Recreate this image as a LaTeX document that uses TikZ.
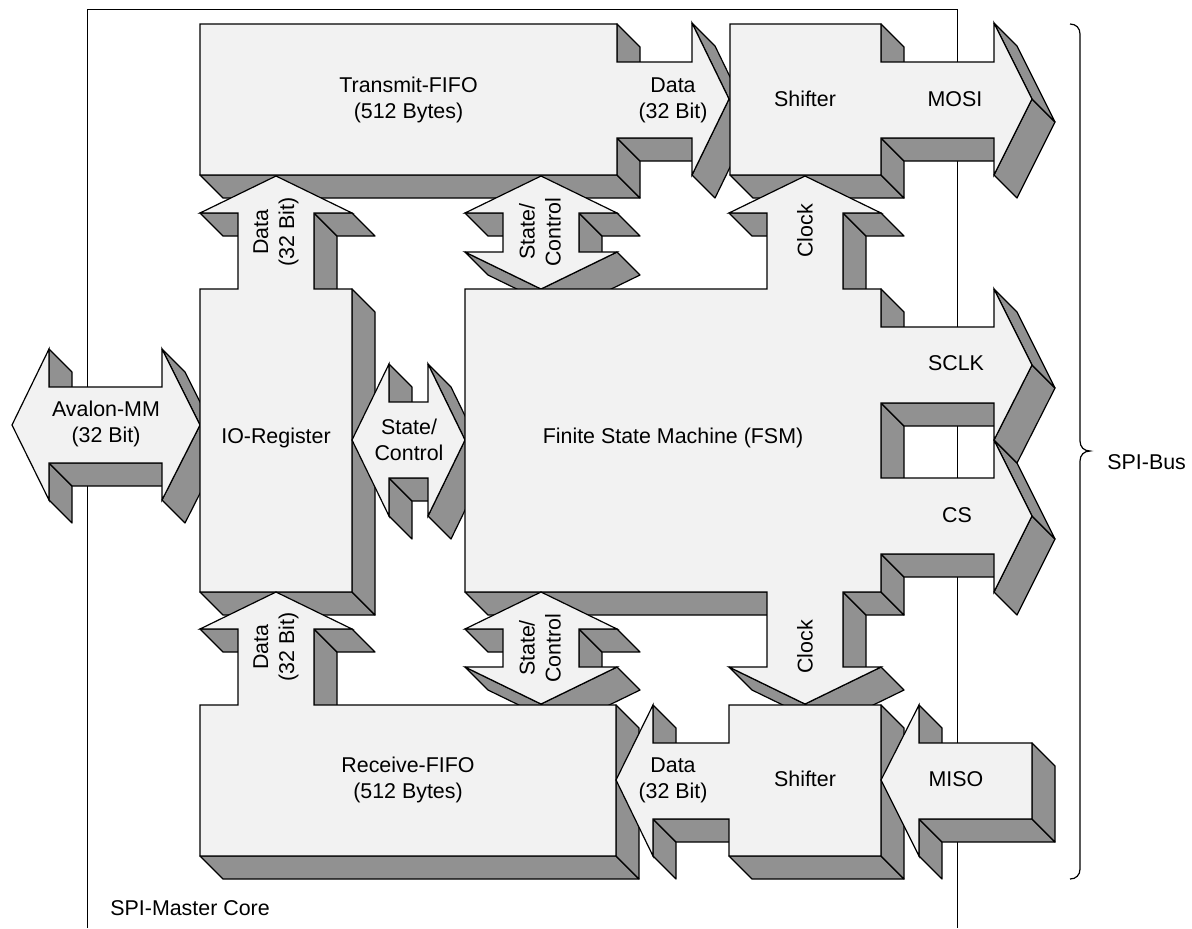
\documentclass[tikz,border=0pt]{standalone}
\usepackage{fontspec}
\setmainfont{Liberation Sans}
\definecolor{facegray}{RGB}{242,242,242}
\definecolor{sidegray}{RGB}{145,145,145}
\tikzset{
  face/.style={fill=facegray, draw=black, line width=0.6pt},
  side/.style={fill=sidegray, draw=black, line width=0.6pt, line join=round},
  lbl/.style={font=\fontsize{10.7pt}{13pt}\selectfont, align=center, inner sep=0pt},
  vlbl/.style={lbl, rotate=90},
  frameline/.style={draw=black, line width=0.5pt},
}
% depth of the oblique extrusion (towards lower right)
\newcommand\extrude{23}
\def\nopoint{none}
% \solidblock{x1/y1, x2/y2, ..., x1/y1}: outline listed counter-clockwise on screen;
% side faces are drawn for the edges that face the viewer, then the front face.
\newcommand\solidblock[1]{%
  \foreach \x/\y [remember=\x as \px (initially none), remember=\y as \py (initially none)] in {#1} {%
    \ifx\px\nopoint\else
      \pgfmathtruncatemacro\isfront{((\x)-(\px))>((\y)-(\py))}%
      \ifnum\isfront=1
        \draw[side] (\px,\py) -- (\x,\y) -- (\x+\extrude,\y+\extrude) -- (\px+\extrude,\py+\extrude) -- cycle;
      \fi
    \fi
  }%
  \gdef\facepath{}%
  \foreach \x/\y [count=\i] in {#1} {%
    \ifnum\i=1 \xdef\facepath{(\x,\y)}\else \xdef\facepath{\facepath -- (\x,\y)}\fi
  }%
  \edef\drawface{\noexpand\draw[face] \facepath -- cycle;}%
  \drawface
}
\begin{document}
\begin{tikzpicture}[x=0.5pt, y=-0.5pt]
\useasboundingbox (0,0) rectangle (1192,928);

% SPI-Master core frame (open at the bottom)
\coordinate (fbl) at (87,928);
\coordinate (ftl) at (87,9);
\coordinate (ftr) at (957,9);
\coordinate (fbr) at (957,928);
\draw[frameline] (fbl) -- (ftl) -- (ftr) -- (fbr);

% brace grouping the SPI bus lines
\draw[line width=0.6pt] (1070,24) .. controls (1076,24) and (1080,28) .. (1080,34)
  -- (1080,441) .. controls (1080,447) and (1084,451) .. (1090,451)
  .. controls (1084,451) and (1080,455) .. (1080,461)
  -- (1080,869) .. controls (1080,875) and (1076,879) .. (1070,879);

% Transmit-FIFO with data output arrow
\solidblock{692/23, 692/62, 617/62, 617/24, 200/24, 200/175, 617/175, 617/138, 692/138, 692/175, 729/99, 692/23}
% transmit shifter with MOSI output
\solidblock{994/23, 994/62, 881/62, 881/24, 730/24, 730/175, 881/175, 881/138, 994/138, 994/175, 1032/99, 994/23}
% Avalon-MM interface
\solidblock{12/425, 49/500, 49/463, 162/463, 162/500, 200/425, 162/349, 162/387, 49/387, 49/349, 12/425}
% IO register with data arrow to the transmit FIFO
\solidblock{276/176, 200/213, 238/213, 238/289, 200/289, 200/592, 352/592, 352/289, 314/289, 314/213, 352/213, 276/176}
% state/control between transmit FIFO and FSM
\solidblock{579/252, 579/213, 617/213, 541/176, 465/213, 503/213, 503/252, 465/252, 541/289, 617/252, 579/252}
% state/control between IO register and FSM
\solidblock{352/440, 389/516, 389/478, 428/478, 428/516, 465/440, 428/364, 428/402, 389/402, 389/364, 352/440}
% finite state machine with clock, SCLK and CS outputs
\solidblock{881/667, 843/667, 843/592, 881/592, 881/554, 994/554, 994/592, 1032/516, 994/440, 994/478, 881/478, 881/403, 994/403, 994/440, 1032/365, 994/289, 994/327, 881/327, 881/289, 843/289, 843/213, 881/213, 805/176, 729/213, 767/213, 767/289, 465/289, 465/592, 767/592, 767/667, 729/667, 805/704, 881/667}
% state/control between FSM and receive FIFO
\solidblock{579/667, 579/629, 617/629, 541/592, 465/629, 503/629, 503/667, 465/667, 541/704, 617/667, 579/667}
% Receive-FIFO with data arrow to the IO register
\solidblock{276/592, 200/629, 238/629, 238/705, 200/705, 200/856, 616/856, 616/705, 314/705, 314/629, 352/629, 276/592}
% receive shifter with data arrow to the receive FIFO
\solidblock{729/705, 729/743, 653/743, 653/705, 616/780, 653/856, 653/819, 729/819, 729/856, 881/856, 881/705, 729/705}
% MISO input
\solidblock{881/780, 919/856, 919/819, 1032/819, 1032/743, 919/743, 919/705, 881/780}

% labels
\node[lbl] (txfifo) at (408.5,100) {Transmit-FIFO\\(512 Bytes)};
\node[lbl] (txdata) at (673,100) {Data\\(32 Bit)};
\node[lbl] (txshift) at (805,99) {Shifter};
\node[lbl] (mosi) at (955,99) {MOSI};
\node[vlbl] (iodata) at (276,232) {Data\\(32 Bit)};
\node[vlbl] (sctop) at (540,232) {State/\\Control};
\node[vlbl] (clktop) at (805,231) {Clock};
\node[lbl] (avalon) at (106,424) {Avalon-MM\\(32 Bit)};
\node[lbl] (ioreg) at (276,438) {IO-Register};
\node[lbl] (scmid) at (409,440) {State/\\Control};
\node[lbl] (fsm) at (673,438) {Finite State Machine (FSM)};
\node[lbl] (sclk) at (956,363) {SCLK};
\node[lbl] (cs) at (957,515) {CS};
\node[vlbl] (rxdata) at (276,647) {Data\\(32 Bit)};
\node[vlbl] (scbot) at (540,648) {State/\\Control};
\node[vlbl] (clkbot) at (805,647) {Clock};
\node[lbl] (rxfifo) at (408,780) {Receive-FIFO\\(512 Bytes)};
\node[lbl] (rxdat2) at (673,780) {Data\\(32 Bit)};
\node[lbl] (rxshift) at (805,779) {Shifter};
\node[lbl] (miso) at (956,779) {MISO};
\node[lbl, anchor=west] (core) at (110,908) {SPI-Master Core};
\node[lbl, anchor=west] (bus) at (1107,462) {SPI-Bus};
\end{tikzpicture}
\end{document}
